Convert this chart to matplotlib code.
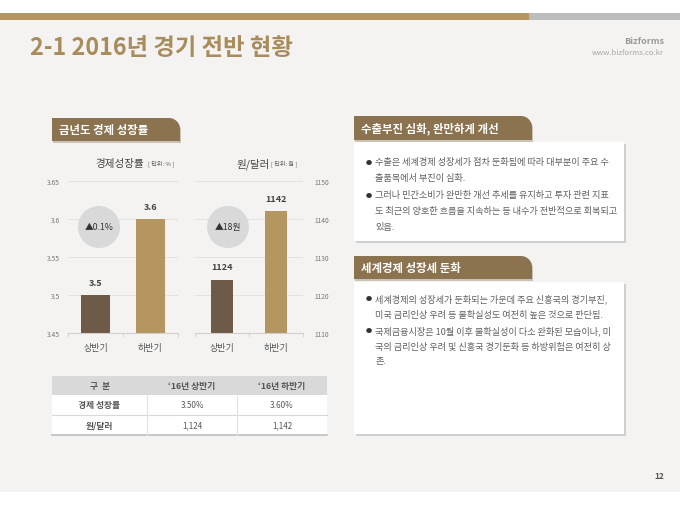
import numpy as np
import matplotlib
matplotlib.use('Agg')
import matplotlib.pyplot as plt
from matplotlib.patches import Rectangle, Circle, Polygon

plt.rcParams['font.family'] = ['Noto Sans CJK KR', 'DejaVu Sans']

# 데이터
periods = ['상반기', '하반기']
growth = [3.5, 3.6]
krw_usd = [1124, 1142]
growth_ticks = [3.45, 3.5, 3.55, 3.6, 3.65]
krw_ticks = [1110, 1120, 1130, 1140, 1150]

table_header = ['구  분', '‘16년 상반기', '‘16년 하반기']
table_names = ['경제 성장률', '원/달러']

box1_lines = [
    ('●', '수출은 세계경제 성장세가 점차 둔화됨에 따라 대부분이 주요 수'),
    ('', '출품목에서 부진이 심화.'),
    ('●', '그러나 민간소비가 완만한 개선 추세를 유지하고 투자 관련 지표'),
    ('', '도 최근의 양호한 흐름을 지속하는 등 내수가 전반적으로 회복되고'),
    ('', '있음.'),
]
box2_lines = [
    ('●', '세계경제의 성장세가 둔화되는 가운데 주요 신흥국의 경기부진,'),
    ('', '미국 금리인상 우려 등 불확실성도 여전히 높은 것으로 판단됨.'),
    ('●', '국제금융시장은 10월 이후 불확실성이 다소 완화된 모습이나, 미'),
    ('', '국의 금리인상 우려 및 신흥국 경기둔화 등 하방위험은 여전히 상'),
    ('', '존.'),
]

GOLD = '#b59560'
DARK = '#6e5b47'
TAB = '#8c7350'
TITLE = '#a88c5c'
TXT = '#555555'

W, H = 680, 510
fig = plt.figure(figsize=(6.8, 5.1), dpi=100, facecolor='white')

bg = fig.add_axes([0, 0, 1, 1])
bg.set_xlim(0, W)
bg.set_ylim(H, 0)
bg.axis('off')

# 배경과 상단 바
bg.add_patch(Rectangle((0, 14), W, 479, color='#f5f3f1', lw=0))
bg.add_patch(Rectangle((0, 14), 529, 7, color=GOLD, lw=0))
bg.add_patch(Rectangle((529, 14), W - 529, 7, color='#bdbdbd', lw=0))

bg.text(30, 48, '2-1 2016년 경기 전반 현황', fontsize=16.8, fontweight='bold',
        color=TITLE, va='center', ha='left')
bg.text(664, 42, 'Bizforms', fontsize=6.5, fontweight='bold', color='#9a9a9a',
        ha='right', va='center')
bg.text(664, 53, 'www.bizforms.co.kr', fontsize=5.5, color='#a8a8a8',
        ha='right', va='center')
bg.text(664, 477, '12', fontsize=6, color='#555555', ha='right', va='center',
        fontweight='bold')


def tab(x0, x1, y0, y1, label, r=11):
    t = np.linspace(np.pi / 2, 0, 15)
    cx, cy = x1 - r, y0 + r
    arc = list(zip(cx + r * np.cos(t), cy - r * np.sin(t)))
    verts = [(x0, y1), (x0, y0)] + arc + [(x1, y1)]
    sh = [(x + 1, y + 2) for x, y in verts]
    bg.add_patch(Polygon(sh, closed=True, color='#c8c2b8', lw=0))
    bg.add_patch(Polygon(verts, closed=True, color=TAB, lw=0))
    bg.text(x0 + 7, (y0 + y1) / 2, label, fontsize=8.2, fontweight='bold',
            color='white', va='center', ha='left')


def box(x0, x1, y0, y1):
    bg.add_patch(Rectangle((x0 + 1.5, y0 + 2), x1 - x0, y1 - y0,
                           color='#cfcfcf', lw=0))
    bg.add_patch(Rectangle((x0, y0), x1 - x0, y1 - y0, color='white', lw=0))


def lines(rows, x0, ys):
    for (mark, s), y in zip(rows, ys):
        if mark:
            bg.text(x0, y, mark, fontsize=4.5, color='#333333', va='center')
        bg.text(x0 + 9, y, s, fontsize=6.6, color='#606060', va='center')


tab(52, 180, 119, 142, '금년도 경제 성장률')
tab(354, 532, 117, 141, '수출부진 심화, 완만하게 개선')
tab(354, 532, 257, 280, '세계경제 성장세 둔화')
box(354, 624, 143, 242)
box(354, 624, 283, 435)
lines(box1_lines, 366, [163, 179, 196, 212, 228])
lines(box2_lines, 366, [299, 315, 331, 347, 362])

# 차트 제목
bg.text(95, 164, '경제성장률', fontsize=7.6, color='#444444', va='center')
bg.text(148, 164, '[ 단위: % ]', fontsize=4.3, color='#555555', va='center')
bg.text(237, 164, '원/달러', fontsize=7.6, color='#444444', va='center')
bg.text(271, 164, '[ 단위: 원 ]', fontsize=4.3, color='#555555', va='center')


def bar_axes(x0, x1, y0, y1):
    ax = fig.add_axes([x0 / W, 1 - y1 / H, (x1 - x0) / W, (y1 - y0) / H])
    ax.set_facecolor('none')
    for s in ['top', 'left', 'right']:
        ax.spines[s].set_visible(False)
    ax.spines['bottom'].set_color('#cfcfcf')
    ax.set_axisbelow(True)
    ax.grid(axis='y', color='#e2e2e2', lw=0.7)
    ax.set_xlim(-0.5, 1.5)
    ax.set_xticks([0, 1])
    ax.set_xticklabels(periods, fontsize=6.5, color=TXT)
    ax.set_xticks([-0.5, 0.5, 1.5], minor=True)
    ax.tick_params(axis='x', which='major', length=0, pad=7)
    ax.tick_params(axis='x', which='minor', length=3, color='#cfcfcf')
    ax.tick_params(axis='y', length=0, labelsize=4.8, labelcolor='#777777')
    return ax


ax1 = bar_axes(68, 178, 182, 334)
ax1.set_ylim(3.45, 3.65)
ax1.set_yticks(growth_ticks)
ax1.set_yticklabels([f'{v:g}' for v in growth_ticks])
ax1.tick_params(axis='y', pad=6)
b1 = ax1.bar([0, 1], growth, width=0.51, color=[DARK, GOLD])
for rect, v in zip(b1, growth):
    ax1.annotate(f'{v:g}', (rect.get_x() + rect.get_width() / 2, v),
                 xytext=(0, 6), textcoords='offset points', ha='center',
                 va='bottom', fontsize=6.5, fontweight='bold', color='#444444')

ax2 = bar_axes(195, 303, 182, 334)
ax2.set_ylim(1110, 1150)
ax2.set_yticks(krw_ticks)
ax2.yaxis.tick_right()
ax2.tick_params(axis='y', pad=8)
b2 = ax2.bar([0, 1], krw_usd, width=0.4, color=[DARK, GOLD])
for rect, v in zip(b2, krw_usd):
    ax2.annotate(f'{v}', (rect.get_x() + rect.get_width() / 2, v),
                 xytext=(0, 6), textcoords='offset points', ha='center',
                 va='bottom', fontsize=6.5, fontweight='bold', color='#444444')

# 증감 원
for ax, (cx, cy), label in [
        (ax1, (99, 228), f'▲{growth[1] - growth[0]:.1f}%'),
        (ax2, (228, 228), f'▲{krw_usd[1] - krw_usd[0]}원')]:
    ax.add_patch(Circle((cx, cy), 21, color='#d9d9d9', lw=0,
                        transform=bg.transData, clip_on=False))
    ax.text(cx, cy, label, transform=bg.transData, ha='center', va='center',
            fontsize=6.3, color='#333333')

# 표
cols = [52, 147, 237, 327]
rows_y = [377, 396, 416, 436]
table_rows = [
    [table_names[0], f'{growth[0]:.2f}%', f'{growth[1]:.2f}%'],
    [table_names[1], f'{krw_usd[0]:,}', f'{krw_usd[1]:,}'],
]
bg.add_patch(Rectangle((cols[0], rows_y[0]), cols[-1] - cols[0],
                       rows_y[1] - rows_y[0], color='#d9d9d9', lw=0))
bg.add_patch(Rectangle((cols[0], rows_y[1]), cols[-1] - cols[0],
                       rows_y[-1] - rows_y[1], color='white', lw=0))
for j, h in enumerate(table_header):
    bg.text((cols[j] + cols[j + 1]) / 2, (rows_y[0] + rows_y[1]) / 2, h,
            ha='center', va='center', fontsize=6.3, color='#555555',
            fontweight='bold')
for i, r in enumerate(table_rows):
    yc = (rows_y[i + 1] + rows_y[i + 2]) / 2
    for j, s in enumerate(r):
        bg.text((cols[j] + cols[j + 1]) / 2, yc, s, ha='center', va='center',
                fontsize=6.3 if j == 0 else 5.8, color='#555555',
                fontweight='bold' if j == 0 else 'normal')
bg.plot([cols[0], cols[-1]], [rows_y[2], rows_y[2]], color='#d9d9d9', lw=0.8)
bg.plot([cols[0], cols[-1]], [rows_y[3], rows_y[3]], color='#bfbfbf', lw=1.2)
for x in cols[1:-1]:
    bg.plot([x, x], [rows_y[1], rows_y[3]], color='#e2e2e2', lw=0.8)

fig.savefig('out.png', dpi=100, facecolor='white')
